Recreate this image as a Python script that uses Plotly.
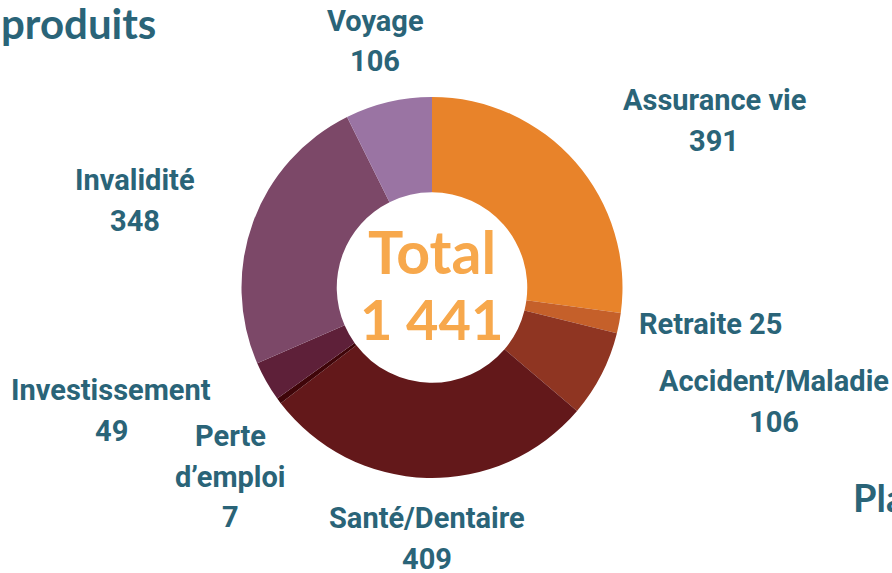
import plotly.graph_objects as go

categories = ["Assurance vie", "Retraite", "Accident/Maladie", "Santé/Dentaire",
              "Perte d’emploi", "Investissement", "Invalidité", "Voyage"]
values = [391, 25, 106, 409, 7, 49, 348, 106]
colors = ["#E8832A", "#C5602A", "#8F3522", "#63181A", "#3F0509", "#5E2039", "#7C4868", "#9A74A3"]
total_label = "Total"
total_value = "1 441"

# label text lines and their positions (pixel coords in the 892x573 canvas)
label_lines = [
    (["Assurance vie", "391"], 714, 100),
    (["Retraite 25"], 710, 324),
    (["Accident/Maladie", "106"], 774, 381),
    (["Santé/Dentaire", "409"], 427, 518),
    (["Perte", "d’emploi", "7"], 230, 436),
    (["Investissement", "49"], 111, 390),
    (["Invalidité", "348"], 135, 180),
    (["Voyage", "106"], 375, 21),
]

W, H = 892, 573
TEAL = "#2A6478"

fig = go.Figure(go.Pie(
    labels=categories, values=values, marker=dict(colors=colors, line=dict(width=0)),
    hole=0.5, sort=False, direction="clockwise", rotation=0,
    textinfo="none", hoverinfo="label+value", showlegend=False,
    domain=dict(x=[241 / W, 623 / W], y=[1 - 478 / H, 1 - 97 / H]),
))

ann = []
for lines, px, py in label_lines:
    for i, t in enumerate(lines):
        ann.append(dict(text=t, x=px / W, y=1 - (py + i * 40.5) / H, xref="paper", yref="paper",
                        showarrow=False, xanchor="center", yanchor="middle",
                        font=dict(family="Roboto", size=29, color=TEAL, weight="bold")))

ann.append(dict(text=total_label, x=432 / W, y=1 - 251 / H, xref="paper", yref="paper", showarrow=False,
                xanchor="center", yanchor="middle",
                font=dict(family="Lato", size=59, color="#F7A84C", weight="bold")))
ann.append(dict(text=total_value, x=432 / W, y=1 - 318 / H, xref="paper", yref="paper", showarrow=False,
                xanchor="center", yanchor="middle",
                font=dict(family="Lato", size=56, color="#F7A84C", weight="bold")))
ann.append(dict(text="produits", x=158 / W, y=1 - 23 / H, xref="paper", yref="paper", showarrow=False,
                xanchor="right", yanchor="middle",
                font=dict(family="Lato", size=42, color=TEAL, weight="bold")))
ann.append(dict(text="Plans", x=851 / W, y=1 - 497 / H, xref="paper", yref="paper", showarrow=False,
                xanchor="left", yanchor="middle",
                font=dict(family="Lato", size=38, color=TEAL, weight="bold")))

fig.update_layout(width=W, height=H, margin=dict(l=0, r=0, t=0, b=0),
                  paper_bgcolor="white", plot_bgcolor="white", annotations=ann)
fig.write_html("out.html", config={"displayModeBar": False},
               post_script="document.body.style.margin='0';document.body.style.overflow='hidden';")
